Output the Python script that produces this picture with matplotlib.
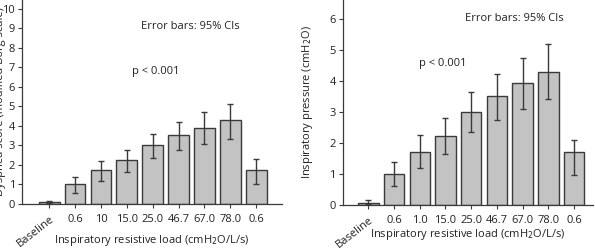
import matplotlib
matplotlib.use("Agg")
import matplotlib.pyplot as plt

plt.rcParams['font.family'] = ['Open Sans', 'DejaVu Sans']

# left panel: dyspnea score
left_labels = ["Baseline", "0.6", "10", "15.0", "25.0", "46.7", "67.0", "78.0", "0.6"]
dyspnea = [0.08, 1.0, 1.75, 2.25, 3.0, 3.52, 3.9, 4.3, 1.72]
dyspnea_lo = [0.03, 0.55, 1.2, 1.65, 2.35, 2.75, 3.1, 3.35, 1.05]
dyspnea_hi = [0.13, 1.4, 2.2, 2.75, 3.6, 4.22, 4.7, 5.15, 2.3]

# right panel: inspiratory pressure
right_labels = ["Baseline", "0.6", "1.0", "15.0", "25.0", "46.7", "67.0", "78.0", "0.6"]
pressure = [0.08, 1.0, 1.7, 2.22, 3.0, 3.52, 3.92, 4.27, 1.7]
pressure_lo = [0.03, 0.6, 1.2, 1.65, 2.35, 2.75, 3.1, 3.4, 0.97]
pressure_hi = [0.15, 1.4, 2.25, 2.8, 3.65, 4.22, 4.72, 5.17, 2.1]

dark = '#3a3a3a'
txt = '#222222'
fs = 8


def draw_panel(ax, labels, vals, lo, hi, ylabel, xlim, ylim, yticks, err_pos, p_pos,
               ylab_x, xlab_y):
    x = list(range(len(vals)))
    yerr = [[v - l for v, l in zip(vals, lo)], [h - v for v, h in zip(vals, hi)]]
    ax.bar(x, vals, width=0.8, color='#c3c3c3', edgecolor=dark, linewidth=1.0,
           yerr=yerr, capsize=2.5, error_kw=dict(ecolor=dark, elinewidth=1.0, capthick=1.0))
    ax.set_xlim(*xlim)
    ax.set_ylim(*ylim)
    ax.set_yticks(yticks)
    ax.set_xticks(x)
    ax.set_xticklabels(labels, fontsize=fs)
    lab0 = ax.get_xticklabels()[0]
    lab0.set_rotation(38)
    lab0.set_fontsize(7.5)
    lab0.set_ha('right')
    lab0.set_va('top')
    lab0.set_rotation_mode('anchor')
    ax.tick_params(axis='both', direction='out', length=3, width=0.8, color=dark,
                   labelsize=fs, labelcolor=txt, pad=2)
    ax.tick_params(axis='x', pad=4)
    for s in ['top', 'right']:
        ax.spines[s].set_visible(False)
    for s in ['left', 'bottom']:
        ax.spines[s].set_color(dark)
        ax.spines[s].set_linewidth(0.9)
    ax.set_ylabel(ylabel, fontsize=fs, color=txt)
    ax.yaxis.set_label_coords(ylab_x, 0.5)
    ax.set_xlabel("Inspiratory resistive load (cmH$_2$O/L/s)", fontsize=fs, color=txt)
    ax.xaxis.set_label_coords(0.5, xlab_y)
    ax.text(err_pos[0], err_pos[1], "Error bars: 95% CIs", fontsize=fs, ha='center', va='center', color=txt)
    ax.text(p_pos[0], p_pos[1], "p < 0.001", fontsize=fs, ha='center', va='center', color=txt)


fig = plt.figure(figsize=(5.95, 2.5), dpi=100)
ax1 = fig.add_axes([0.037, 0.184, 0.437, 0.816])
ax2 = fig.add_axes([0.576, 0.18, 0.421, 0.82])

draw_panel(ax1, left_labels, dyspnea, dyspnea_lo, dyspnea_hi,
           "Dyspnea score (modified Borg scale)", (-1.05, 9.0), (0, 10.46),
           range(0, 11), (5.44, 9.1), (4.1, 6.8), -0.06, -0.14)
draw_panel(ax2, right_labels, pressure, pressure_lo, pressure_hi,
           "Inspiratory pressure (cmH$_2$O)", (-1.0, 8.75), (0, 6.6),
           range(0, 7), (5.68, 6.0), (2.9, 4.55), -0.112, -0.107)

fig.savefig("out.png", dpi=100)
